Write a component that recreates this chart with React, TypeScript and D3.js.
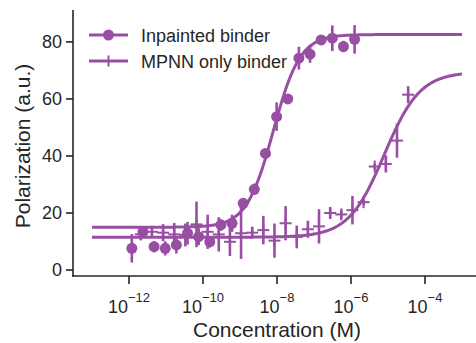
import React from "react";
import * as d3 from "d3";

const W = 476;
const H = 343;
const COLOR = "#984ea3";
const INK = "#262626";
const FONT = "'Liberation Sans', Arial, sans-serif";

// Inpainted binder (circles)
const inpaintConc = [
  1.192e-12, 2.384e-12, 4.768e-12, 9.537e-12, 1.907e-11, 3.815e-11, 7.629e-11,
  1.526e-10, 3.052e-10, 6.104e-10, 1.221e-9, 2.441e-9, 4.883e-9, 9.766e-9,
  1.953e-8, 3.906e-8, 7.813e-8, 1.563e-7, 3.125e-7, 6.25e-7, 1.25e-6,
];
const inpaintPol = [
  7.6, 13.4, 8.2, 7.6, 8.8, 12.9, 11.7, 9.9, 15.8, 16.4, 23.4, 28.3, 40.9, 53.8,
  60.0, 74.3, 75.7, 80.7, 81.3, 78.4, 80.9,
];
const inpaintErr = [
  5, 2, 2, 2.5, 3, 4, 3, 2, 2, 3, 1, 2, 1, 5, 1, 4, 3, 1, 4.5, 2, 5,
];
// 4PL fit: bottom, top, log10 EC50, hill
const inpaintFit = [15.0, 82.6, -8.1, 1.2];

// MPNN only binder (plus)
const mpnnConc = [
  2.086e-12, 4.172e-12, 8.345e-12, 1.669e-11, 3.338e-11, 6.676e-11, 1.335e-10,
  2.67e-10, 5.341e-10, 1.068e-9, 2.136e-9, 4.272e-9, 8.545e-9, 1.709e-8,
  3.418e-8, 6.836e-8, 1.367e-7, 2.734e-7, 5.469e-7, 1.094e-6, 2.188e-6,
  4.375e-6, 8.75e-6, 1.75e-5, 3.5e-5,
];
const mpnnPol = [
  12.5, 13.4, 13.1, 12.5, 12.3, 16.0, 13.4, 12.5, 9.9, 12.9, 13.1, 14.0, 10.3,
  16.4, 11.6, 14.3, 15.3, 20.0, 19.5, 21.0, 23.8, 36.3, 37.2, 45.4, 61.5,
];
const mpnnErr = [
  2, 2, 3, 4, 4, 8, 6, 6, 5, 9, 2, 5, 6, 6, 4, 3, 6, 2, 1.5, 5, 1, 1, 3, 6, 3,
];
const mpnnFit = [11.5, 69.5, -5.1, 0.9];

const fitRange = [1e-13, 1e-3];
const xTickExps = [-12, -10, -8, -6, -4];
const yTicks = [0, 20, 40, 60, 80];
const seriesNames = ["Inpainted binder", "MPNN only binder"];

const x = d3.scaleLog().domain([10 ** -13.5, 10 ** -2.5]).range([73.5, 480.5]);
const y = d3.scaleLinear().domain([-2.1, 91.2]).range([276, 10]);

function fourPL(p: number[], c: number) {
  const [b, t, le, n] = p;
  return b + (t - b) / (1 + Math.pow(10 ** le / c, n));
}

function fitPath(p: number[]) {
  const lo = Math.log10(fitRange[0]);
  const hi = Math.log10(fitRange[1]);
  const pts: [number, number][] = [];
  const N = 300;
  for (let i = 0; i <= N; i++) {
    const c = 10 ** (lo + ((hi - lo) * i) / N);
    pts.push([x(c), y(fourPL(p, c))]);
  }
  return d3.line()(pts) || "";
}

export default function App() {
  const sw = 2.6;
  return (
    <svg
      width={W}
      height={H}
      style={{ position: "fixed", left: 0, top: 0, background: "#fff" }}
      fontFamily={FONT}
    >
      {/* fit curves */}
      <path d={fitPath(inpaintFit)} fill="none" stroke={COLOR} strokeWidth={3} />
      <path d={fitPath(mpnnFit)} fill="none" stroke={COLOR} strokeWidth={3} />

      {/* inpainted points */}
      {inpaintConc.map((c, i) => (
        <g key={"a" + i}>
          <line
            x1={x(c)}
            x2={x(c)}
            y1={y(inpaintPol[i] - inpaintErr[i])}
            y2={y(inpaintPol[i] + inpaintErr[i])}
            stroke={COLOR}
            strokeWidth={sw}
          />
          <circle cx={x(c)} cy={y(inpaintPol[i])} r={5.5} fill={COLOR} />
        </g>
      ))}

      {/* mpnn points */}
      {mpnnConc.map((c, i) => (
        <g key={"b" + i}>
          <line
            x1={x(c)}
            x2={x(c)}
            y1={y(mpnnPol[i] - mpnnErr[i])}
            y2={y(mpnnPol[i] + mpnnErr[i])}
            stroke={COLOR}
            strokeWidth={sw}
          />
          <line
            x1={x(c) - 6}
            x2={x(c) + 6}
            y1={y(mpnnPol[i])}
            y2={y(mpnnPol[i])}
            stroke={COLOR}
            strokeWidth={2}
          />
          <line
            x1={x(c)}
            x2={x(c)}
            y1={y(mpnnPol[i]) - 6}
            y2={y(mpnnPol[i]) + 6}
            stroke={COLOR}
            strokeWidth={2}
          />
        </g>
      ))}

      {/* axes */}
      <line x1={73} x2={73} y1={10} y2={276.8} stroke={INK} strokeWidth={1.6} />
      <line x1={72.2} x2={W} y1={276} y2={276} stroke={INK} strokeWidth={1.6} />
      {yTicks.map((t) => (
        <g key={"y" + t}>
          <line x1={66} x2={73} y1={y(t)} y2={y(t)} stroke={INK} strokeWidth={1.6} />
          <text x={62} y={y(t) + 6.3} textAnchor="end" fontSize={18} fill={INK}>
            {t}
          </text>
        </g>
      ))}
      {xTickExps.map((e) => (
        <g key={"x" + e}>
          <line x1={x(10 ** e)} x2={x(10 ** e)} y1={276} y2={284} stroke={INK} strokeWidth={1.6} />
          <text x={x(10 ** e)} y={313} textAnchor="middle" fill={INK} fontSize={18}>
            <tspan>10</tspan>
            <tspan fontSize={13} dy={-11}>{"\u2212" + Math.abs(e)}</tspan>
          </text>
        </g>
      ))}
      <text x={277} y={337} textAnchor="middle" fontSize={21} fill={INK}>
        Concentration (M)
      </text>
      <text
        transform="translate(30,146) rotate(-90)"
        textAnchor="middle"
        fontSize={21}
        fill={INK}
      >
        Polarization (a.u.)
      </text>

      {/* legend */}
      <g>
        <line x1={89} x2={128} y1={35} y2={35} stroke={COLOR} strokeWidth={3} />
        <circle cx={108.5} cy={35} r={5.5} fill={COLOR} />
        <text x={141} y={41.5} fontSize={18} fill={INK}>
          {seriesNames[0]}
        </text>
        <line x1={89} x2={128} y1={61} y2={61} stroke={COLOR} strokeWidth={3} />
        <line x1={108.5} x2={108.5} y1={55.5} y2={66.5} stroke={COLOR} strokeWidth={2} />
        <text x={141} y={67.5} fontSize={18} fill={INK}>
          {seriesNames[1]}
        </text>
      </g>
    </svg>
  );
}
